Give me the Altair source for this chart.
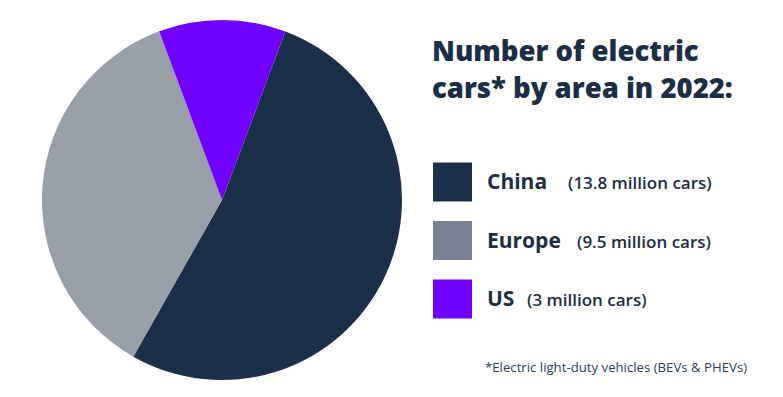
import altair as alt
import pandas as pd

areas = ["China", "Europe", "US"]
cars_million = [13.8, 9.5, 3.0]
details = ["(13.8 million cars)", "(9.5 million cars)", "(3 million cars)"]
title_lines = ["Number of electric", "cars* by area in 2022:"]
footnote = "*Electric light-duty vehicles (BEVs & PHEVs)"

pie_colors = ["#1a3049", "#989fa9", "#7000ff"]
legend_colors = ["#1a3049", "#7a8294", "#7000ff"]
detail_x = [568, 577, 527]
text_color = "#1c2e45"
FONT = "Open Sans"

pie_df = pd.DataFrame({"area": areas, "value": cars_million, "order": [0, 1, 2]})
leg_df = pd.DataFrame({"area": areas, "idx": [0, 1, 2], "detail": details,
                       "dx": detail_x, "lc": legend_colors})

start = 0.36
pie = alt.Chart(pie_df).mark_arc(outerRadius=180).encode(
    theta=alt.Theta("value:Q", stack=True,
                    scale=alt.Scale(range=[start, start + 6.283185307])),
    order=alt.Order("order:Q"),
    color=alt.Color("area:N", scale=alt.Scale(domain=areas, range=pie_colors), legend=None),
    x=alt.value(222),
    y=alt.value(200),
)

yscale = alt.Scale(domain=[0, 2], range=[182, 299])

squares = alt.Chart(leg_df).mark_square(size=1521, opacity=1).encode(
    x=alt.value(452.5),
    y=alt.Y("idx:Q", scale=yscale, axis=None),
    fill=alt.Fill("lc:N", scale=None),
)

names = alt.Chart(leg_df).mark_text(
    align="left", baseline="alphabetic", font=FONT, fontWeight="bold",
    fontSize=21, color=text_color, dy=7
).encode(
    x=alt.value(487),
    y=alt.Y("idx:Q", scale=yscale, axis=None),
    text="area:N",
)

dets = alt.Chart(leg_df).mark_text(
    align="left", baseline="alphabetic", font=FONT, fontWeight=600,
    fontSize=17, color=text_color, dy=7
).encode(
    x=alt.X("dx:Q", scale=None, axis=None),
    y=alt.Y("idx:Q", scale=yscale, axis=None),
    text="detail:N",
)

title = alt.Chart(pd.DataFrame({"t": [title_lines]})).mark_text(
    align="left", baseline="alphabetic", font=FONT, fontWeight=800,
    fontSize=27.5, color=text_color, lineHeight=37
).encode(x=alt.value(432), y=alt.value(61), text="t")

foot = alt.Chart(pd.DataFrame({"t": [footnote]})).mark_text(
    align="left", baseline="middle", font=FONT, fontSize=13.2, color="#2e3e55"
).encode(x=alt.value(485), y=alt.value(368), text="t:N")

chart = alt.layer(pie, squares, names, dets, title, foot).properties(
    width=783, height=397, padding=0, autosize="none", background="white"
).resolve_scale(y="shared").configure_view(stroke=None)

chart.save("out.html", embed_options={"renderer": "svg", "actions": False})
